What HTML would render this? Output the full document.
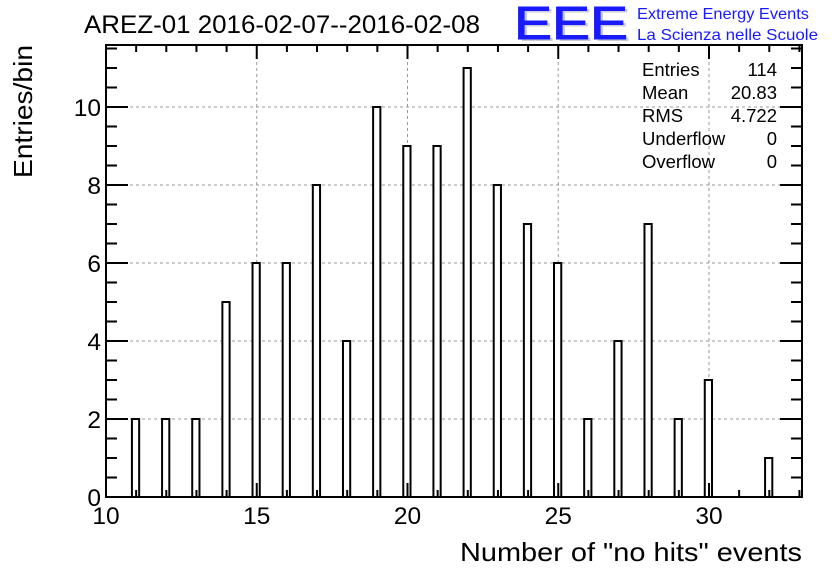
<!DOCTYPE html>
<html><head><meta charset="utf-8"><style>
body{margin:0;background:#fff;font-family:"Liberation Sans",sans-serif}
</style></head><body>
<svg id="chart" width="836" height="572" xmlns="http://www.w3.org/2000/svg" font-family="Liberation Sans, sans-serif">
<rect width="836" height="572" fill="#fff"/>
<text x="84" y="33" font-size="25" textLength="396" lengthAdjust="spacingAndGlyphs">AREZ-01 2016-02-07--2016-02-08</text>
<g>
<text x="517" y="41" font-size="46" fill="#aab" opacity="0.6" textLength="114" lengthAdjust="spacingAndGlyphs">EEE</text>
<text x="514" y="39" font-size="46" fill="#1a1aff" stroke="#1a1aff" stroke-width="1" textLength="114" lengthAdjust="spacingAndGlyphs">EEE</text>
<text x="637" y="19" font-size="16" fill="#1a1aff" textLength="172" lengthAdjust="spacingAndGlyphs">Extreme Energy Events</text>
<text x="637" y="40" font-size="16" fill="#1a1aff" textLength="181" lengthAdjust="spacingAndGlyphs">La Scienza nelle Scuole</text>
</g>
<g id="grid"></g>
<g id="bars"></g>
<g id="axes"></g>
<g font-size="18.5">
<text x="642" y="76">Entries</text><text x="777" y="76" text-anchor="end">114</text>
<text x="642" y="99">Mean</text><text x="777" y="99" text-anchor="end">20.83</text>
<text x="642" y="122">RMS</text><text x="777" y="122" text-anchor="end">4.722</text>
<text x="642" y="145">Underflow</text><text x="777" y="145" text-anchor="end">0</text>
<text x="642" y="168">Overflow</text><text x="777" y="168" text-anchor="end">0</text>
</g>
<text x="460" y="561" font-size="26" textLength="342" lengthAdjust="spacingAndGlyphs">Number of "no hits" events</text>
<text transform="translate(32,178) rotate(-90)" font-size="26" textLength="133" lengthAdjust="spacingAndGlyphs">Entries/bin</text>
</svg>
<script>
const categories=[11,12,13,14,15,16,17,18,19,20,21,22,23,24,25,26,27,28,29,30,32];
const counts=[2,2,2,5,6,6,8,4,10,9,9,11,8,7,6,2,4,7,2,3,1];
const xTicks=[10,15,20,25,30];
const yTicks=[0,2,4,6,8,10];
const X0=106,X1=802,Y0=497,Y1=45;
const xMin=10,xMax=33.085,yMin=0,yMax=11.59;
const sx=v=>X0+(v-xMin)/(xMax-xMin)*(X1-X0);
const sy=v=>Y0-(v-yMin)/(yMax-yMin)*(Y0-Y1);
const NS="http://www.w3.org/2000/svg";
function mk(parent,tag,attrs){const e=document.createElementNS(NS,tag);for(const k in attrs)e.setAttribute(k,attrs[k]);document.getElementById(parent).appendChild(e);return e;}
xTicks.forEach(t=>{const l=mk('grid','line',{x1:sx(t),x2:sx(t),y1:Y0,y2:Y1,stroke:'#999','stroke-dasharray':'3,3','stroke-width':1});

});
yTicks.forEach(t=>{const l=mk('grid','line',{x1:X0,x2:X1,y1:sy(t),y2:sy(t),stroke:'#999','stroke-dasharray':'3,3','stroke-width':1});

});
categories.forEach((c,i)=>{const x=sx(c-0.14),w=sx(c+0.1)-x;const r=mk('bars','rect',{x:x,y:sy(counts[i]),width:w,height:Y0-sy(counts[i]),fill:'#fff',stroke:'#000','stroke-width':2});

});
const fr=mk('axes','rect',{x:X0,y:Y1,width:X1-X0,height:Y0-Y1,fill:'none',stroke:'#000','stroke-width':2});


for(let v=xMin;v<=xMax;v+=1){const big=(v%5===0);const L=big?14:7;
mk('axes','line',{x1:sx(v),x2:sx(v),y1:Y0,y2:Y0-L,stroke:'#000','stroke-width':2});
mk('axes','line',{x1:sx(v),x2:sx(v),y1:Y1,y2:Y1+L,stroke:'#000','stroke-width':2});}
for(let v=0;v<=yMax;v+=0.5){const big=(Math.abs(v%2)<1e-6);const L=big?22:11;
mk('axes','line',{x1:X0,x2:X0+L,y1:sy(v),y2:sy(v),stroke:'#000','stroke-width':2});
mk('axes','line',{x1:X1,x2:X1-L,y1:sy(v),y2:sy(v),stroke:'#000','stroke-width':2});}
xTicks.forEach(t=>{const e=mk('axes','text',{x:sx(t),y:Y0+27,'font-size':24.5,'text-anchor':'middle'});e.textContent=t;

});
yTicks.forEach(t=>{const e=mk('axes','text',{x:X0-5,y:sy(t)+9,'font-size':24.5,'text-anchor':'end'});e.textContent=t;

});
</script>
</body></html>
